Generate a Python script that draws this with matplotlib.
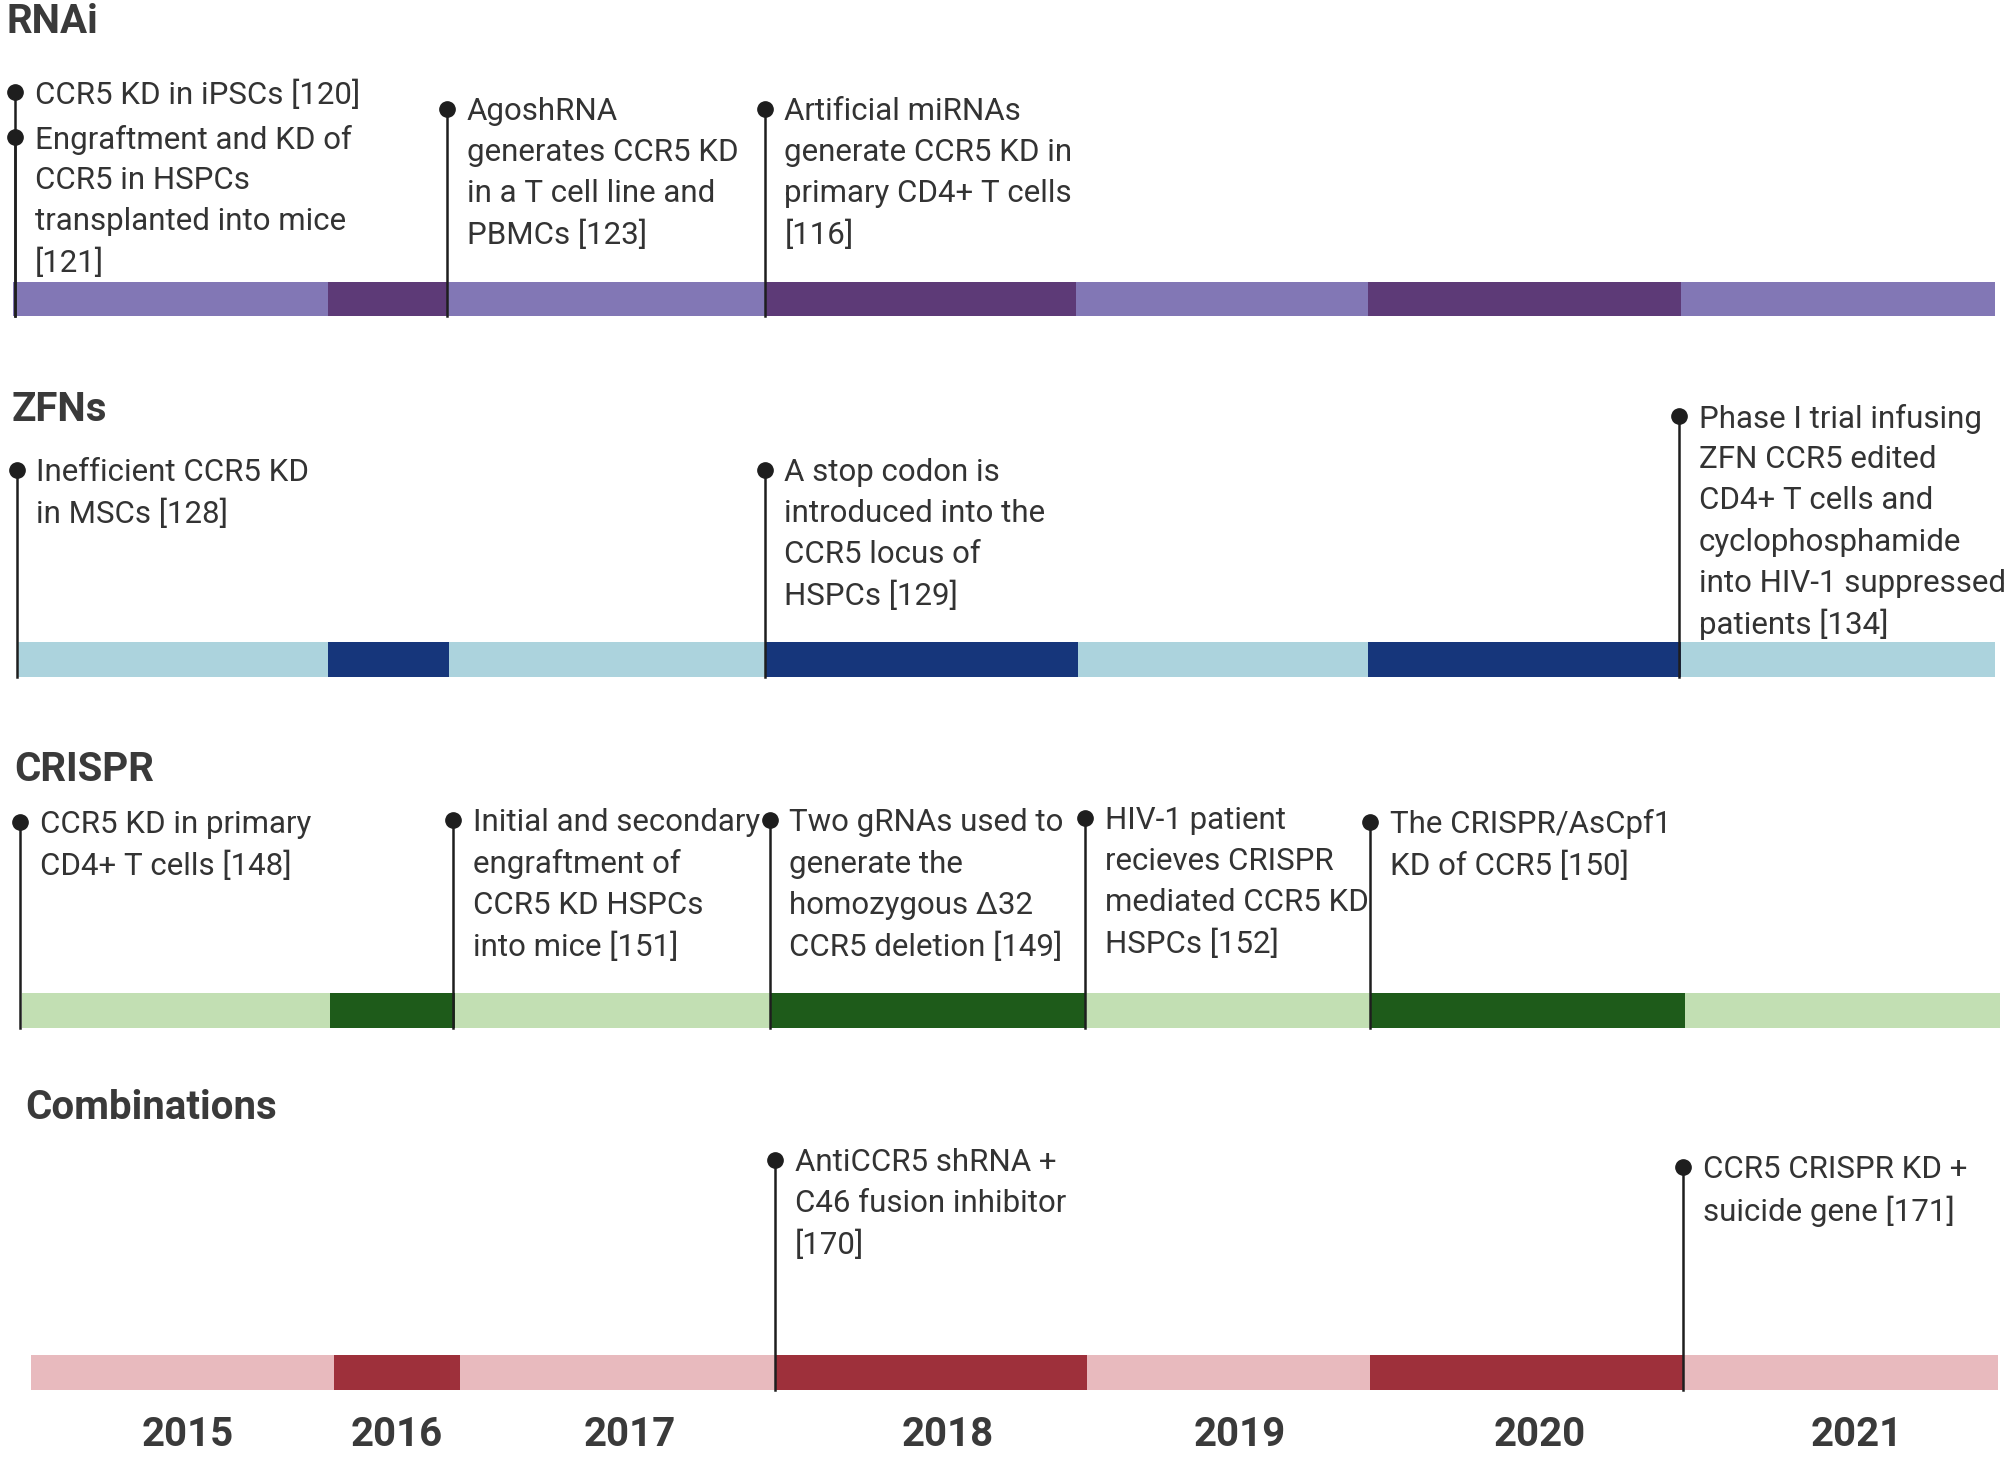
import matplotlib.pyplot as plt
from matplotlib.patches import Rectangle

plt.rcParams['font.family'] = ['Roboto', 'DejaVu Sans']

# timeline: year labels and where each year block starts/ends (px along the timeline, per track)
years = ['2015', '2016', '2017', '2018', '2019', '2020', '2021']
year_label_x = [147, 310, 492, 740, 968, 1202, 1450]
rnai_edges = [10, 256, 349, 597, 840, 1068, 1313, 1558]
zfn_edges = [13, 256, 351, 597, 842, 1068, 1313, 1558]
crispr_edges = [17, 258, 355, 601, 847, 1070, 1316, 1562]
comb_edges = [24, 261, 359, 605, 849, 1070, 1314, 1560]

tracks = ['RNAi', 'ZFNs', 'CRISPR', 'Combinations']
track_edges = [rnai_edges, zfn_edges, crispr_edges, comb_edges]
light_colors = ['#8277b5', '#acd3dd', '#c2dfb3', '#e8babe']
dark_colors = ['#5d3a77', '#16367b', '#1e5b1a', '#9e303b']

# (track, position on timeline, text)
events = [
    (0, 12, 'CCR5 KD in iPSCs [120]'),
    (0, 12, 'Engraftment and KD of\nCCR5 in HSPCs\ntransplanted into mice\n[121]'),
    (0, 349, 'AgoshRNA\ngenerates CCR5 KD\nin a T cell line and\nPBMCs [123]'),
    (0, 597, 'Artificial miRNAs\ngenerate CCR5 KD in\nprimary CD4+ T cells\n[116]'),
    (1, 13, 'Inefficient CCR5 KD\nin MSCs [128]'),
    (1, 597, 'A stop codon is\nintroduced into the\nCCR5 locus of\nHSPCs [129]'),
    (1, 1311, 'Phase I trial infusing\nZFN CCR5 edited\nCD4+ T cells and\ncyclophosphamide\ninto HIV-1 suppressed\npatients [134]'),
    (2, 16, 'CCR5 KD in primary\nCD4+ T cells [148]'),
    (2, 354, 'Initial and secondary\nengraftment of\nCCR5 KD HSPCs\ninto mice [151]'),
    (2, 601, 'Two gRNAs used to\ngenerate the\nhomozygous Δ32\nCCR5 deletion [149]'),
    (2, 847, 'HIV-1 patient\nrecieves CRISPR\nmediated CCR5 KD\nHSPCs [152]'),
    (2, 1070, 'The CRISPR/AsCpf1\nKD of CCR5 [150]'),
    (3, 605, 'AntiCCR5 shRNA +\nC46 fusion inhibitor\n[170]'),
    (3, 1314, 'CCR5 CRISPR KD +\nsuicide gene [171]'),
]
# y of the pin head for each event (same order)
event_top = [72, 107, 85, 85, 367, 367, 325, 642, 641, 641, 639, 642, 906, 912]

# layout
title_x = [5, 9, 11, 20]
title_y = [17, 320, 602, 866]
bar_top = [220, 502, 776, 1059]
bar_h = 27
line_gap = 32.2
text_color = '#333333'

fig = plt.figure(figsize=(20.08, 14.59), dpi=100)
ax = fig.add_axes([0, 0, 1, 1])
ax.set_xlim(0, 1568)
ax.set_ylim(1140, 0)
ax.axis('off')

for t, name in enumerate(tracks):
    ax.text(title_x[t], title_y[t], name, fontsize=29, fontweight='bold',
            color='#3a3a3a', va='center', ha='left')
    edges = track_edges[t]
    for i in range(len(years)):
        col = dark_colors[t] if i in (1, 3, 5) else light_colors[t]
        ax.add_patch(Rectangle((edges[i], bar_top[t]), edges[i + 1] - edges[i], bar_h,
                               facecolor=col, edgecolor='none', zorder=1))

for (t, x, txt), y in zip(events, event_top):
    ax.plot([x, x], [y, bar_top[t] + bar_h], color='#1e1e1e', lw=1.8, zorder=3)
    ax.plot(x, y, 'o', color='#1e1e1e', markersize=11, zorder=4)
    for k, line in enumerate(txt.split('\n')):
        ax.text(x + 15.5, y + 2 + k * line_gap, line, fontsize=22.5, color=text_color,
                va='center', ha='left')

for lab, x in zip(years, year_label_x):
    ax.text(x, 1121, lab, fontsize=29, fontweight='bold', color='#3a3a3a',
            ha='center', va='center')

plt.savefig('out.png', dpi=100)
